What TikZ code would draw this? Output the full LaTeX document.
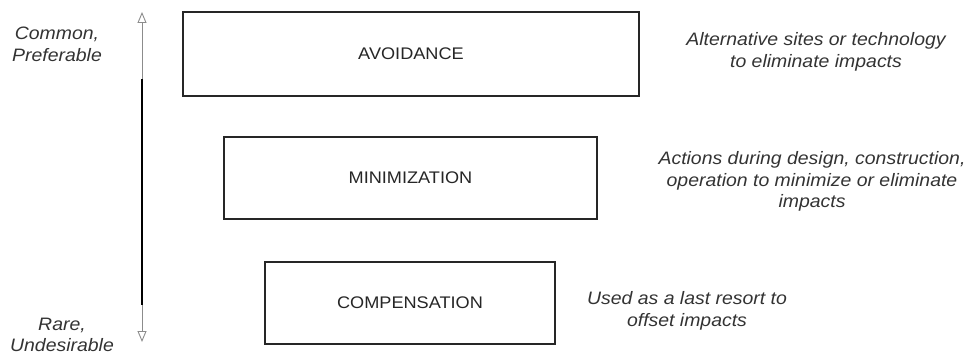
\documentclass[tikz,border=0pt]{standalone}
\usepackage{fontspec}
\setmainfont{Liberation Sans}
\newfontfamily\wideface[FakeStretch=1.08]{Liberation Sans}
\usetikzlibrary{arrows.meta}
\begin{document}
\begin{tikzpicture}[x=1pt,y=-1pt,
  stage/.style={draw=black!85, line width=1.8pt, minimum width=#1, font=\wideface\fontsize{16.8}{21}\selectfont, text=black!85, inner sep=0pt},
  note/.style={align=center, font=\wideface\fontsize{18}{21.5}\selectfont\itshape, text=black!80, inner sep=0pt},
  thinarr/.style={draw=black!45, line width=0.9pt},
]
\useasboundingbox (0,0) rectangle (965,355);
% boxes
\node[stage=456pt, minimum height=84pt] (avo) at (411,54) {AVOIDANCE};
\node[stage=373pt, minimum height=82pt] (min) at (410.5,178) {MINIMIZATION};
\node[stage=290pt, minimum height=82pt] (com) at (410,303) {COMPENSATION};
% notes
\node[note] (n1) at (816,52) {Alternative sites or technology\\to eliminate impacts};
\node[note] (n2) at (812,181.5) {Actions during design, construction,\\operation to minimize or eliminate\\impacts};
\node[note] (n3) at (687,311) {Used as a last resort to\\offset impacts};
\node[note] (top) at (57,44.5) {Common,\\Preferable};
\node[note] (bot) at (62,335) {Rare,\\Undesirable};
% scale arrow
\coordinate (tip1) at (142,12);
\coordinate (g1) at (142,79);
\coordinate (b2) at (142,305);
\coordinate (tip2) at (142,342);
\draw[thinarr, -{Triangle[open, length=11pt, width=9pt]}] (g1) -- (tip1);
\draw[black, line width=2pt] (g1) -- (b2);
\draw[thinarr, -{Triangle[open, length=11pt, width=9pt]}] (b2) -- (tip2);
\end{tikzpicture}
\end{document}
